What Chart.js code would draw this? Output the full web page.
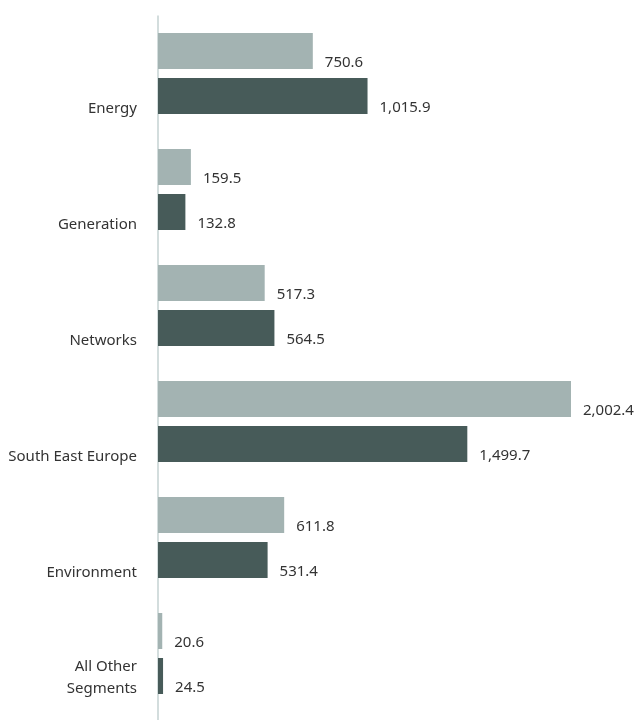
<!DOCTYPE html>
<html lang="en">
<head>
    <meta charset="UTF-8">
    <title>Segments</title>
    <script src="https://cdn.jsdelivr.net/npm/chart.js"></script>
    <style>
        html, body { margin: 0; padding: 0; background: #fff; }
        .chart-container { width: 637px; height: 720px; }
    </style>
</head>
<body>
    <div class="chart-container">
        <canvas id="segmentsChart"></canvas>
    </div>

    <script>
        const categories = [['', 'Energy'], ['', 'Generation'], ['', 'Networks'], ['', 'South East Europe'], ['', 'Environment'], ['All Other', 'Segments']];
        const previousYear = [750.6, 159.5, 517.3, 2002.4, 611.8, 20.6];
        const currentYear = [1015.9, 132.8, 564.5, 1499.7, 531.4, 24.5];

        function fmt(v) {
            return v.toLocaleString('en-US', { minimumFractionDigits: 1, maximumFractionDigits: 1 });
        }

        // value labels at the end of each bar, slightly below centre
        const valueLabels = {
            id: 'valueLabels',
            afterDatasetsDraw(chart) {
                const ctx = chart.ctx;
                ctx.save();
                ctx.font = '15px "Noto Sans"';
                ctx.fillStyle = '#333333';
                ctx.textAlign = 'left';
                ctx.textBaseline = 'middle';
                chart.data.datasets.forEach((ds, i) => {
                    chart.getDatasetMeta(i).data.forEach((bar, j) => {
                        ctx.fillText(fmt(ds.data[j]), bar.x + 12, bar.y + 12);
                    });
                });
                ctx.restore();
            }
        };

        // axis line running to the bottom of the picture
        const axisLine = {
            id: 'axisLine',
            beforeDatasetsDraw(chart) {
                const ctx = chart.ctx;
                const x = chart.chartArea.left;
                ctx.save();
                ctx.strokeStyle = '#d3dddd';
                ctx.lineWidth = 2;
                ctx.beginPath();
                ctx.moveTo(x, chart.chartArea.top);
                ctx.lineTo(x, chart.height);
                ctx.stroke();
                ctx.restore();
            }
        };

        const ctx = document.getElementById('segmentsChart').getContext('2d');
        new Chart(ctx, {
            type: 'bar',
            data: {
                labels: categories,
                datasets: [{
                    label: 'Previous',
                    data: previousYear,
                    backgroundColor: '#a3b3b2',
                    categoryPercentage: 0.776,
                    barPercentage: 0.8
                }, {
                    label: 'Current',
                    data: currentYear,
                    backgroundColor: '#475b59',
                    categoryPercentage: 0.776,
                    barPercentage: 0.8
                }]
            },
            options: {
                indexAxis: 'y',
                responsive: true,
                maintainAspectRatio: false,
                animation: false,
                layout: { padding: { top: 15.5, bottom: 8.5, left: 0, right: 0 } },
                scales: {
                    x: {
                        display: false,
                        min: 0,
                        max: 2322.4
                    },
                    y: {
                        grid: { display: false },
                        border: { display: false },
                        afterFit(axis) {
                            axis.width = 158;
                            axis.paddingTop = 0;
                            axis.paddingBottom = 0;
                        },
                        ticks: {
                            color: '#333333',
                            font: { family: '"Noto Sans"', size: 15, lineHeight: '22px' },
                            padding: 13,
                            labelOffset: 24.5
                        }
                    }
                },
                plugins: {
                    legend: { display: false },
                    tooltip: { enabled: false }
                }
            },
            plugins: [axisLine, valueLabels]
        });
    </script>
</body>
</html>
